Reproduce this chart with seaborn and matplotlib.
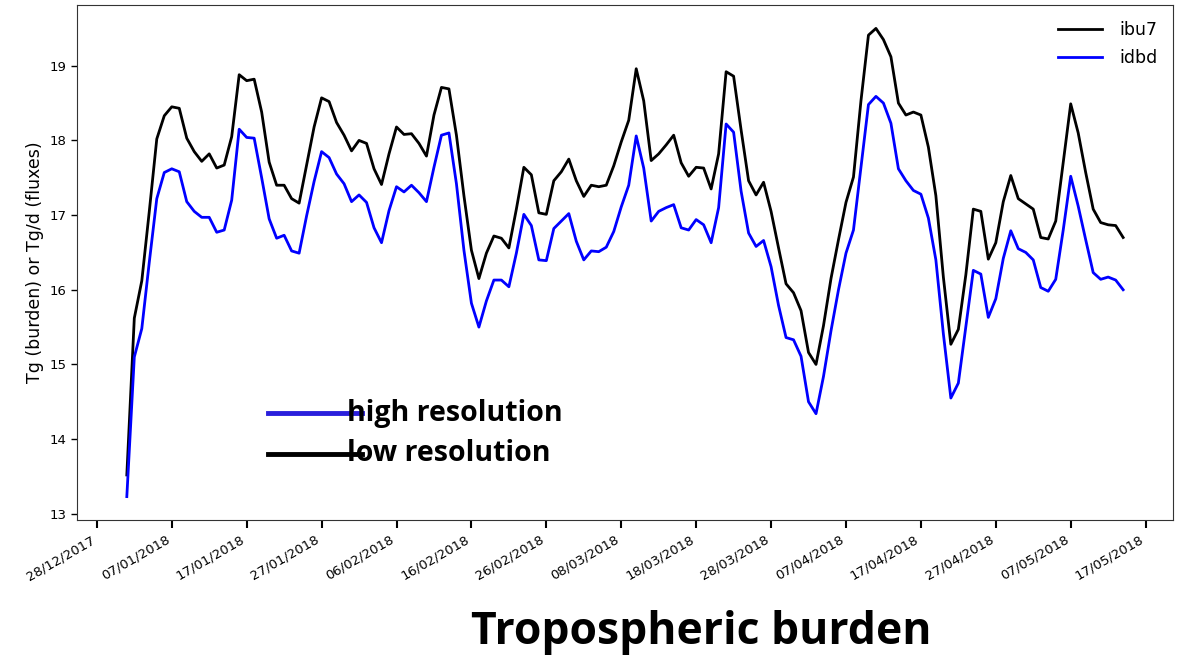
import numpy as np
import pandas as pd
import matplotlib
matplotlib.use("Agg")
import matplotlib.pyplot as plt
import matplotlib.dates as mdates
from matplotlib.lines import Line2D
import seaborn as sns

# ---- data ----
start_date = "2018-01-01"
ibu7 = [13.52, 15.62, 16.12, 17.05, 18.02, 18.33, 18.45, 18.43, 18.03, 17.85,
        17.72, 17.82, 17.63, 17.67, 18.05, 18.88, 18.80, 18.82, 18.38, 17.71,
        17.40, 17.40, 17.22, 17.16, 17.67, 18.18, 18.57, 18.52, 18.24, 18.07,
        17.86, 18.00, 17.96, 17.62, 17.41, 17.82, 18.18, 18.08, 18.09, 17.96,
        17.79, 18.34, 18.71, 18.69, 18.07, 17.26, 16.53, 16.15, 16.49, 16.72,
        16.69, 16.56, 17.08, 17.64, 17.54, 17.03, 17.01, 17.46, 17.58, 17.75,
        17.46, 17.25, 17.40, 17.38, 17.40, 17.66, 17.98, 18.27, 18.96, 18.53,
        17.73, 17.82, 17.94, 18.07, 17.70, 17.52, 17.64, 17.63, 17.35, 17.82,
        18.92, 18.86, 18.14, 17.46, 17.27, 17.44, 17.05, 16.56, 16.08, 15.96,
        15.72, 15.16, 15.00, 15.52, 16.15, 16.67, 17.17, 17.51, 18.53, 19.41,
        19.50, 19.35, 19.12, 18.50, 18.34, 18.38, 18.34, 17.91, 17.26, 16.17,
        15.27, 15.47, 16.20, 17.08, 17.05, 16.41, 16.63, 17.18, 17.53, 17.22,
        17.15, 17.08, 16.70, 16.68, 16.92, 17.71, 18.49, 18.10, 17.57, 17.08,
        16.90, 16.87, 16.86, 16.70]
idbd = [13.23, 15.10, 15.48, 16.37, 17.22, 17.57, 17.62, 17.58, 17.18, 17.05,
        16.97, 16.97, 16.77, 16.80, 17.20, 18.15, 18.04, 18.03, 17.50, 16.95,
        16.69, 16.73, 16.52, 16.49, 16.99, 17.45, 17.85, 17.77, 17.55, 17.42,
        17.18, 17.27, 17.17, 16.83, 16.63, 17.06, 17.38, 17.31, 17.40, 17.30,
        17.18, 17.64, 18.07, 18.10, 17.42, 16.53, 15.82, 15.50, 15.85, 16.13,
        16.13, 16.04, 16.49, 17.01, 16.86, 16.40, 16.39, 16.82, 16.92, 17.02,
        16.65, 16.40, 16.52, 16.51, 16.57, 16.78, 17.11, 17.40, 18.06, 17.63,
        16.92, 17.05, 17.10, 17.14, 16.83, 16.80, 16.94, 16.87, 16.63, 17.10,
        18.22, 18.11, 17.32, 16.76, 16.58, 16.66, 16.31, 15.79, 15.36, 15.33,
        15.11, 14.50, 14.34, 14.84, 15.45, 16.00, 16.49, 16.80, 17.64, 18.48,
        18.59, 18.50, 18.23, 17.62, 17.46, 17.33, 17.28, 16.96, 16.40, 15.41,
        14.55, 14.75, 15.50, 16.26, 16.21, 15.63, 15.88, 16.42, 16.79, 16.55,
        16.50, 16.40, 16.03, 15.98, 16.14, 16.80, 17.52, 17.12, 16.67, 16.23,
        16.14, 16.17, 16.13, 16.00]
series_names = ["ibu7", "idbd"]
tick_start = "2017-12-28"
n_ticks = 15
ylabel = "Tg (burden) or Tg/d (fluxes)"
annot_labels = ["high resolution", "low resolution"]
title = "Tropospheric burden"

dates = pd.date_range(start_date, periods=len(ibu7), freq="D")
df = pd.DataFrame({
    "date": np.concatenate([dates, dates]),
    "value": ibu7 + idbd,
    "run": [series_names[0]] * len(ibu7) + [series_names[1]] * len(idbd),
})

fig = plt.figure(figsize=(11.81, 6.58), dpi=100)
ax = fig.add_axes([0.0652, 0.2097, 0.928, 0.7827])

sns.lineplot(data=df, x="date", y="value", hue="run", hue_order=series_names,
             palette={"ibu7": "black", "idbd": "#0000ff"}, linewidth=2, ax=ax)

ticks = pd.date_range(tick_start, periods=n_ticks, freq="10D")
ax.set_xticks(ticks)
ax.xaxis.set_major_formatter(mdates.DateFormatter("%d/%m/%Y"))
plt.setp(ax.get_xticklabels(), rotation=30, ha="right", rotation_mode="default")
ax.tick_params(axis="x", labelsize=9.5, length=6, width=1.5)
ax.tick_params(axis="y", labelsize=9.5, length=4, width=1)
ax.set_xlabel("")
ax.set_ylabel(ylabel, fontsize=12.5)
for s in ax.spines.values():
    s.set_color("#333333")

leg = ax.legend(loc="upper right", frameon=False, fontsize=12.5,
                handlelength=2.5, handletextpad=1.0, labelspacing=0.6)
for ln in leg.get_lines():
    ln.set_linewidth(2)

# overlay annotation (manually-drawn legend)
fig.add_artist(Line2D([0.227, 0.3065], [0.3723, 0.3723], color="#2a1fdc", lw=3.5,
                      transform=fig.transFigure))
fig.add_artist(Line2D([0.227, 0.3065], [0.3100, 0.3100], color="black", lw=3.5,
                      transform=fig.transFigure))
fig.text(0.2935, 0.3723, annot_labels[0], fontsize=20.5, fontweight="bold",
         family="Open Sans", va="center", ha="left")
fig.text(0.2935, 0.3115, annot_labels[1], fontsize=20.5, fontweight="bold",
         family="Open Sans", va="center", ha="left")
fig.text(0.594, 0.038, title, fontsize=32, fontweight="bold",
         family="Open Sans", va="center", ha="center")

fig.savefig("out.png", dpi=100)
